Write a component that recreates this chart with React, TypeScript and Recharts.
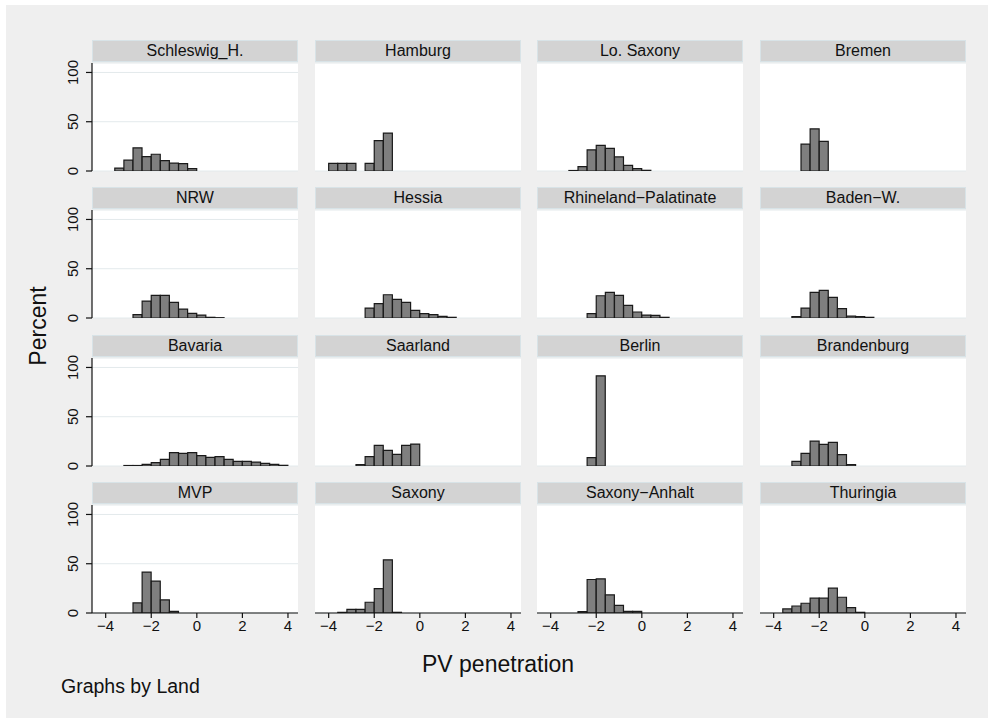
import React from 'react';
import { BarChart, Bar, XAxis, YAxis, CartesianGrid } from 'recharts';

// Histogram bins (left edges), common to all panels
const binStarts = [-4.0, -3.6, -3.2, -2.8, -2.4, -2.0, -1.6, -1.2, -0.8, -0.4, 0.0, 0.4, 0.8, 1.2, 1.6, 2.0, 2.4, 2.8, 3.2, 3.6];
const binWidth = 0.4;

const xTicks = [-4, -2, 0, 2, 4];
const yTicks = [0, 50, 100];

const landNames = [
  'Schleswig_H.', 'Hamburg', 'Lo. Saxony', 'Bremen',
  'NRW', 'Hessia', 'Rhineland\u2212Palatinate', 'Baden\u2212W.',
  'Bavaria', 'Saarland', 'Berlin', 'Brandenburg',
  'MVP', 'Saxony', 'Saxony\u2212Anhalt', 'Thuringia',
];

// Percent per bin (20 bins, -4.0 .. 4.0)
const schleswig = [0, 3, 11, 23.5, 14.5, 17, 10.5, 8, 7.5, 2.5, 0, 0, 0, 0, 0, 0, 0, 0, 0, 0];
const hamburg = [7.7, 7.7, 7.7, 0, 7.7, 30.8, 38.5, 0, 0, 0, 0, 0, 0, 0, 0, 0, 0, 0, 0, 0];
const loSaxony = [0, 0, 0.5, 4.4, 21.5, 26, 23, 14.3, 5.8, 2.4, 0.7, 0, 0, 0, 0, 0, 0, 0, 0, 0];
const bremen = [0, 0, 0, 27.3, 42.7, 30, 0, 0, 0, 0, 0, 0, 0, 0, 0, 0, 0, 0, 0, 0];
const nrw = [0, 0, 0, 3.4, 17.2, 23, 23, 15.9, 9.1, 4.7, 3, 0.7, 0.3, 0, 0, 0, 0, 0, 0, 0];
const hessia = [0, 0, 0, 0, 10.1, 14.5, 23.6, 18.9, 15.9, 7.8, 4.4, 3.4, 1.7, 0.7, 0, 0, 0, 0, 0, 0];
const rhinelandPalatinate = [0, 0, 0, 0, 4.4, 22.6, 26, 23, 12.8, 6.1, 3, 2.7, 0.7, 0, 0, 0, 0, 0, 0, 0];
const badenW = [0, 0, 1.4, 10.1, 26, 28, 21, 9.5, 2, 1.4, 0.7, 0, 0, 0, 0, 0, 0, 0, 0, 0];
const bavaria = [0, 0, 0.5, 0.5, 1.7, 3.4, 6.8, 13.5, 12.8, 13.5, 10.5, 8.8, 9.5, 6.8, 4.7, 4.7, 4, 2.7, 1.7, 0.7];
const saarland = [0, 0, 0, 1.4, 9.5, 21, 15.9, 11.8, 21, 22.3, 0, 0, 0, 0, 0, 0, 0, 0, 0, 0];
const berlin = [0, 0, 0, 0, 8.5, 91.5, 0, 0, 0, 0, 0, 0, 0, 0, 0, 0, 0, 0, 0, 0];
const brandenburg = [0, 0, 4.7, 12.8, 25.3, 22, 24, 11.5, 1.4, 0, 0, 0, 0, 0, 0, 0, 0, 0, 0, 0];
const mvp = [0, 0, 0, 10.2, 41.5, 32.3, 13.3, 1.7, 0, 0, 0, 0, 0, 0, 0, 0, 0, 0, 0, 0];
const saxony = [0, 0.7, 3.7, 3.7, 10.9, 24.8, 54, 0.7, 0, 0, 0, 0, 0, 0, 0, 0, 0, 0, 0, 0];
const saxonyAnhalt = [0, 0, 0, 1.4, 34, 34.7, 18.4, 7.8, 1.7, 1.7, 0, 0, 0, 0, 0, 0, 0, 0, 0, 0];
const thuringia = [0, 4.1, 7.1, 9.9, 15, 15, 25.2, 16, 5.4, 0.7, 0, 0, 0, 0, 0, 0, 0, 0, 0, 0];

const landValues = [
  schleswig, hamburg, loSaxony, bremen,
  nrw, hessia, rhinelandPalatinate, badenW,
  bavaria, saarland, berlin, brandenburg,
  mvp, saxony, saxonyAnhalt, thuringia,
];

const FONT = '"Liberation Sans", Arial, Helvetica, sans-serif';
const colX = [92, 315, 537, 760];
const rowY = [40, 187, 335, 482];
const PW = 206;
const PH = 108;
const YW = 40;
const XH = 30;
const TOPM = 16;
const HEADER_H = 22;

const fmtX = (v: number) => (v < 0 ? '\u2212' + Math.abs(v) : String(v));

const YTick = (props: any) => {
  const { x, y, payload } = props;
  const bx = x - 6;
  return (
    <text x={bx} y={y} transform={`rotate(-90 ${bx} ${y})`} textAnchor="middle" fontSize={15} fill="#111" fontFamily={FONT}>
      {payload.value}
    </text>
  );
};

const Panel = ({ idx }: { idx: number }) => {
  const col = idx % 4;
  const row = Math.floor(idx / 4);
  const isLeft = col === 0;
  const isBottom = row === 3;
  const data = binStarts
    .map((s, i) => ({ x: s + binWidth / 2, pct: landValues[idx][i] }))
    .filter((d) => d.pct > 0);
  const x0 = colX[col];
  const y0 = rowY[row];
  return (
    <>
      <div style={{ position: 'absolute', left: x0 - YW, top: y0 + HEADER_H + 1 - TOPM }}>
        <BarChart
          width={YW + PW + 6}
          height={PH + XH + TOPM}
          data={data}
          margin={{ top: TOPM, right: 6, bottom: 0, left: 0 }}
          barCategoryGap={0}
          barGap={0}
        >
          <CartesianGrid vertical={false} stroke="#e3eaec" fill="#ffffff" />
          <XAxis
            type="number"
            dataKey="x"
            domain={[-4.6, 4.44]}
            allowDataOverflow
            ticks={xTicks}
            tickFormatter={fmtX}
            height={XH}
            axisLine={isBottom ? { stroke: '#111', strokeWidth: 1.2 } : false}
            tickLine={isBottom ? { stroke: '#111', strokeWidth: 1.2 } : false}
            tickSize={5}
            tickMargin={2}
            tick={isBottom ? { fill: '#111', fontSize: 15, fontFamily: FONT } : false}
            interval={0}
          />
          <YAxis
            type="number"
            domain={[0, 109.6]}
            allowDataOverflow
            ticks={yTicks}
            width={YW}
            axisLine={isLeft ? { stroke: '#111', strokeWidth: 1.2 } : false}
            tickLine={isLeft ? { stroke: '#111', strokeWidth: 1.2 } : false}
            tickSize={6}
            tickMargin={2}
            tick={isLeft ? <YTick /> : false}
            interval={0}
          />
          <Bar dataKey="pct" fill="#7f7f7f" stroke="#1a1a1a" strokeWidth={1.2} isAnimationActive={false} />
        </BarChart>
      </div>
      <div
        style={{
          position: 'absolute', left: x0, top: y0, width: PW, height: HEADER_H,
          boxSizing: 'border-box', background: '#d3d3d3', border: '1px solid #d8e3e7',
          fontFamily: FONT, fontSize: 16, lineHeight: '20px', textAlign: 'center', color: '#111',
        }}
      >
        {landNames[idx]}
      </div>
    </>
  );
};

export default function App() {
  return (
    <div style={{ position: 'absolute', left: 0, top: 0, width: 988, height: 724, background: '#ffffff', overflow: 'hidden' }}>
      <div style={{ position: 'absolute', left: 6, top: 5, width: 982, height: 713, background: '#efefef' }} />
      {landNames.map((_, i) => (
        <Panel key={i} idx={i} />
      ))}
      <svg width={988} height={724} style={{ position: 'absolute', left: 0, top: 0, pointerEvents: 'none' }}>
        <text x={46} y={326} transform="rotate(-90 46 326)" textAnchor="middle" fontSize={23} fill="#111" fontFamily={FONT}>
          Percent
        </text>
        <text x={422} y={672} textAnchor="start" fontSize={23} fill="#111" fontFamily={FONT}>
          PV penetration
        </text>
        <text x={61} y={693} textAnchor="start" fontSize={19.5} fill="#111" fontFamily={FONT}>
          Graphs by Land
        </text>
      </svg>
    </div>
  );
}
